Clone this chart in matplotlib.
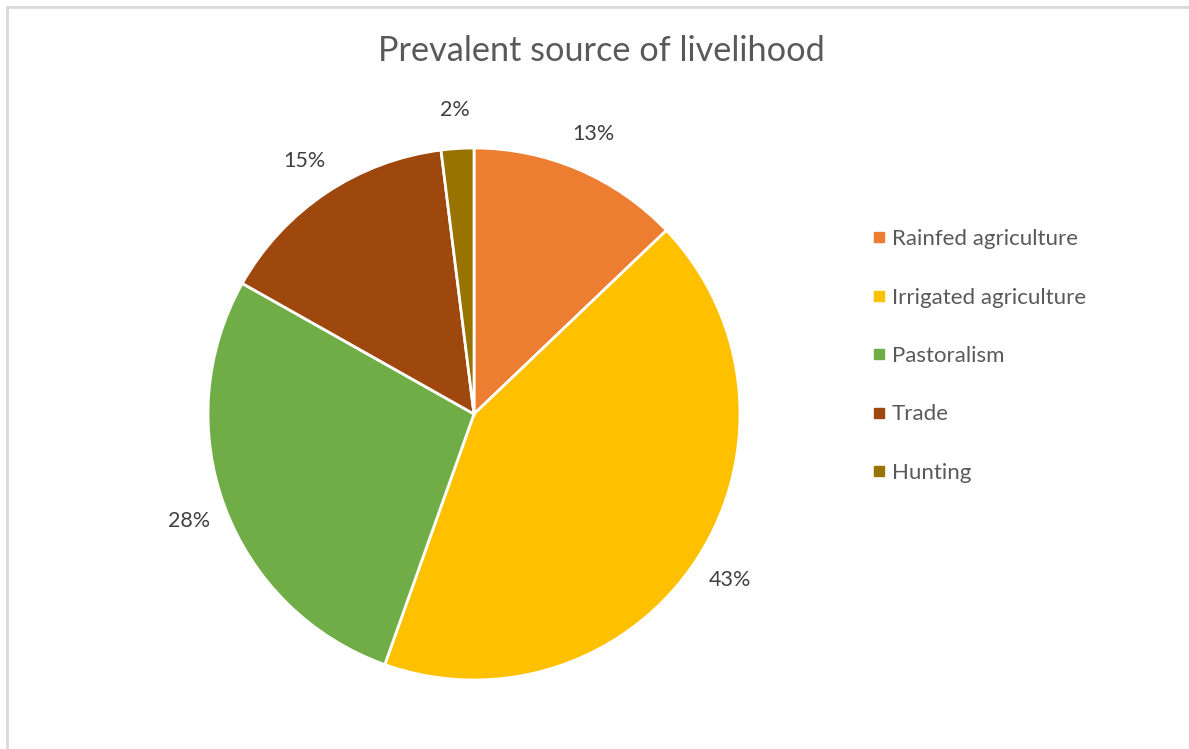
#!/usr/bin/env python

import matplotlib
matplotlib.use("Agg")
import matplotlib.pyplot as plt
from matplotlib.patches import Rectangle
from matplotlib.lines import Line2D

categories = ['Rainfed agriculture', 'Irrigated agriculture', 'Pastoralism', 'Trade', 'Hunting']
shares = [13, 43, 28, 15, 2]
colors = ['#ED7D31', '#FFC000', '#70AD47', '#9E480E', '#997300']

W, H = 1189, 749
plt.rcParams['font.family'] = ['Lato', 'DejaVu Sans']

fig = plt.figure(figsize=(W / 100, H / 100), dpi=100)
fig.patch.set_facecolor('white')

# chart border (Excel style), runs off the right/bottom edge
fig.add_artist(Rectangle((7 / W, -0.05), 1.1, 1 - 7 / H + 0.05, transform=fig.transFigure,
                         fill=False, edgecolor='#D9D9D9', linewidth=2))

# pie axes: centre (474, 414) px, radius 266 px
cx, cy, r = 474, 414, 266
half = 1.3 * r
ax = fig.add_axes([(cx - half) / W, 1 - (cy + half) / H, 2 * half / W, 2 * half / H])

wedges, texts = ax.pie(shares, colors=colors, startangle=90, counterclock=False,
                       labels=[f'{v}%' for v in shares], labeldistance=1.145,
                       radius=1, wedgeprops=dict(edgecolor='white', linewidth=2),
                       textprops=dict(color='#404040', fontsize=15.5))
for t in texts:
    t.set_horizontalalignment('center')
    t.set_verticalalignment('center')
ax.set_xlim(-1.3, 1.3)
ax.set_ylim(-1.3, 1.3)
ax.axis('off')

fig.text(601 / W, 1 - 51 / H, 'Prevalent source of livelihood', ha='center', va='center',
         fontsize=24.7, color='#595959')

handles = [Line2D([], [], marker='s', linestyle='none', markersize=7,
                  markerfacecolor=c, markeredgecolor=c) for c in colors]
fig.legend(handles, categories, loc='upper left', bbox_to_anchor=(862 / W, 1 - 218 / H),
           frameon=False, fontsize=16, labelcolor='#595959', handlelength=0.5,
           handletextpad=0.35, labelspacing=1.73, borderpad=0)

fig.savefig('out.png', dpi=100)
